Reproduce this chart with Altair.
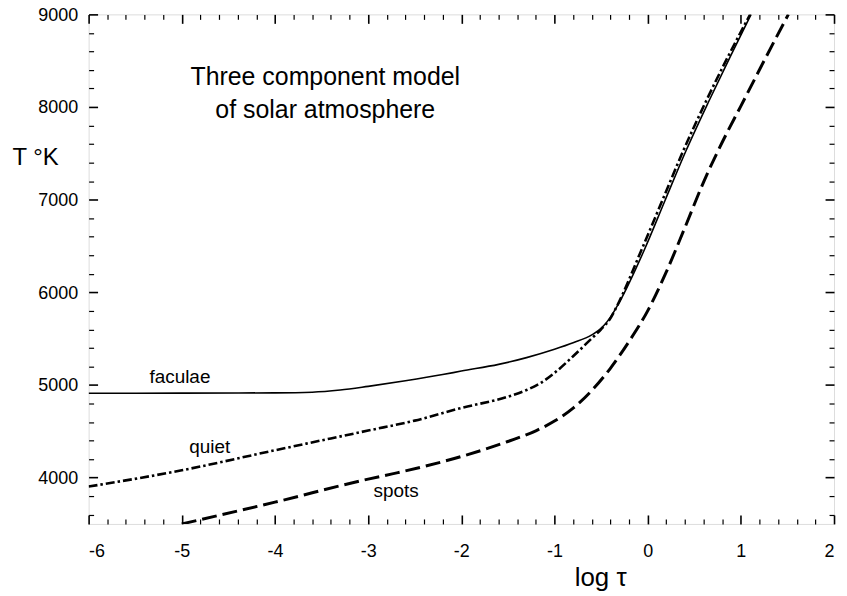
import altair as alt
import pandas as pd

# ---- data ----
log_tau_faculae = [-6, -5, -4, -3.6, -3.3, -3.0, -2.6, -2.2, -2.0, -1.6, -1.3, -1.0,
                   -0.8, -0.6, -0.5, -0.4, -0.3, -0.04, 0.184, 0.409, 0.655, 0.88, 1.11]
T_faculae = [4910, 4912, 4915, 4922, 4945, 4985, 5045, 5112, 5150, 5222, 5295, 5385,
             5455, 5540, 5610, 5730, 5900, 6449, 6986, 7523, 8060, 8530, 9000]

log_tau_quiet = [-6, -5, -4, -3, -2.5, -2.0, -1.5, -1.3, -1.15, -1.0, -0.8, -0.6,
                 -0.5, -0.4, -0.33, -0.07, 0.155, 0.38, 0.625, 0.855, 1.10]
T_quiet = [3903, 4079, 4295, 4508, 4615, 4752, 4873, 4945, 5020, 5130, 5310, 5503,
           5600, 5720, 5850, 6449, 6986, 7523, 8060, 8530, 9000]

log_tau_spots = [-5, -4, -3, -2.68, -2.0, -1.5, -1.2, -1.0, -0.8, -0.6, -0.4, -0.2,
                 0.0, 0.2, 0.4, 0.6, 0.8, 1.0, 1.25, 1.51]
T_spots = [3500, 3735, 3984, 4054, 4228, 4390, 4505, 4610, 4750, 4940, 5180, 5470,
           5800, 6220, 6700, 7190, 7620, 8010, 8500, 9000]

# curve labels (anchored in data units)
label_text = ["faculae", "quiet", "spots"]
label_logtau = [-5.02, -4.70, -2.70]
label_T = [5020, 4268, 3795]

# annotation block
note_text = ["Three component model", "of solar atmosphere"]
note_logtau = [-3.46, -3.46]
note_T = [8243, 7878]

# axis ticks
x_major = [-6, -5, -4, -3, -2, -1, 0, 1, 2]
x_minor = [-5.8, -5.6, -5.4, -5.2, -4.8, -4.6, -4.4, -4.2, -3.8, -3.6, -3.4, -3.2,
           -2.8, -2.6, -2.4, -2.2, -1.8, -1.6, -1.4, -1.2, -0.8, -0.6, -0.4, -0.2,
           0.2, 0.4, 0.6, 0.8, 1.2, 1.4, 1.6, 1.8]
y_major = [4000, 5000, 6000, 7000, 8000, 9000]
y_minor = [3600, 3800, 4200, 4400, 4600, 4800, 5200, 5400, 5600, 5800, 6200, 6400,
           6600, 6800, 7200, 7400, 7600, 7800, 8200, 8400, 8600, 8800]

FONT = "Liberation Sans"
xs = alt.Scale(domain=[-6, 2], nice=False, zero=False)
ys = alt.Scale(domain=[3500, 9000], nice=False, zero=False)


def axis(orient, values, size, width, **kw):
    base = dict(orient=orient, values=values, tickSize=alt.ExprRef(expr=str(-size)),
                tickWidth=width, tickColor="black", domain=False, grid=False,
                labels=False)
    base.update(kw)
    return alt.Axis(**base)


ax_x_major_b = axis("bottom", x_major, 9, 1.6, labels=True, labelFontSize=18,
                    labelPadding=28, labelExpr="'' + datum.value",
                    labelFont=FONT, labelColor="black",
                    titleFont=FONT, titleFontSize=26, titleFontWeight="normal",
                    titleColor="black", titleX=514, titleY=62, titleAlign="center",
                    titleBaseline="alphabetic")
ax_x_minor_b = axis("bottom", x_minor, 5, 1.2)
ax_x_major_t = axis("top", x_major, 9, 1.6)
ax_x_minor_t = axis("top", x_minor, 5, 1.2)

ax_y_major_l = axis("left", y_major, 9, 1.6, labels=True, labelFontSize=18,
                    labelPadding=20, labelOffset=1, labelExpr="'' + datum.value",
                    labelFont=FONT, labelColor="black", titleFont=FONT,
                    titleFontSize=24, titleFontWeight="normal", titleColor="black",
                    titleAngle=0, titleX=-77, titleY=151, titleAlign="left",
                    titleBaseline="alphabetic")
ax_y_minor_l = axis("left", y_minor, 5, 1.2)
ax_y_major_r = axis("right", y_major, 9, 1.6)
ax_y_minor_r = axis("right", y_minor, 5, 1.2)

df_f = pd.DataFrame({"logtau": log_tau_faculae, "T": T_faculae})
df_q = pd.DataFrame({"logtau": log_tau_quiet, "T": T_quiet})
df_s = pd.DataFrame({"logtau": log_tau_spots, "T": T_spots})
df_l = pd.DataFrame({"logtau": label_logtau, "T": label_T, "txt": label_text})
df_n = pd.DataFrame({"logtau": note_logtau, "T": note_T, "txt": note_text})

faculae = alt.Chart(df_f).mark_line(color="black", strokeWidth=1.6,
                                    interpolate="monotone", clip=True).encode(
    x=alt.X("logtau:Q", scale=xs, axis=ax_x_major_b, title="log τ"),
    y=alt.Y("T:Q", scale=ys, axis=ax_y_major_l, title="T °K"),
)
quiet = alt.Chart(df_q).mark_line(color="black", strokeWidth=2.6,
                                  strokeDash=[9, 3, 2.5, 3],
                                  interpolate="monotone", clip=True).encode(
    x=alt.X("logtau:Q", scale=xs, axis=ax_x_minor_b, title=""),
    y=alt.Y("T:Q", scale=ys, axis=ax_y_minor_l, title=""),
)
spots = alt.Chart(df_s).mark_line(color="black", strokeWidth=3,
                                  strokeDash=[15, 6],
                                  interpolate="monotone", clip=True).encode(
    x=alt.X("logtau:Q", scale=xs, axis=ax_x_major_t, title=""),
    y=alt.Y("T:Q", scale=ys, axis=ax_y_major_r, title=""),
)
labels = alt.Chart(df_l).mark_text(font=FONT, fontSize=19, color="black",
                                   align="center", baseline="alphabetic").encode(
    x=alt.X("logtau:Q", scale=xs, axis=ax_x_minor_t, title=""),
    y=alt.Y("T:Q", scale=ys, axis=ax_y_minor_r, title=""),
    text="txt:N",
)
notes = alt.Chart(df_n).mark_text(font=FONT, fontSize=25, color="black",
                                  align="center", baseline="alphabetic").encode(
    x=alt.X("logtau:Q", scale=xs, axis=None),
    y=alt.Y("T:Q", scale=ys, axis=None),
    text="txt:N",
)

chart = alt.layer(faculae, quiet, spots, labels, notes).resolve_axis(
    x="independent", y="independent"
).properties(
    width=749, height=512,
    autosize="none",
    padding={"left": 81, "top": 5, "right": 5, "bottom": 70},
).configure_view(stroke="black", strokeWidth=2).configure(background="white")

chart.save("out.html", embed_options={"renderer": "svg", "actions": False})
